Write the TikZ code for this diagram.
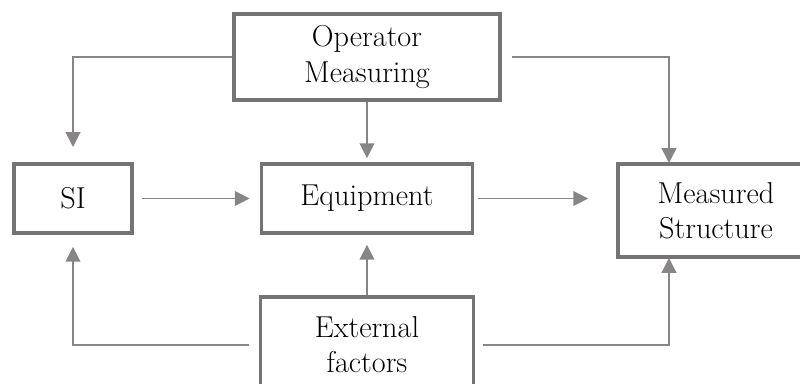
\documentclass[tikz,border=0pt]{standalone}
\usepackage{xcolor}
\usepackage{tikz}
\usetikzlibrary{arrows.meta, positioning}

\definecolor{boxgray}{RGB}{118,115,115}
\definecolor{linegray}{RGB}{135,133,133}

\begin{document}
\begin{tikzpicture}[x=0.025cm, y=-0.025cm,
        box/.style={draw=boxgray, line width=2.6pt, fill=white, rectangle, inner sep=0pt, align=center, font=\fontsize{21.5}{25}\selectfont},
        arrow/.style={draw=linegray, line width=0.9pt, -{Triangle[length=10.5pt, width=10.5pt]}, >=stealth}
    ]
        \useasboundingbox (0,0) rectangle (800,383);
        \node (op) [box, minimum width=6.65cm, minimum height=2.15cm] at (367,57) {\raisebox{-5pt}{Operator}\\\raisebox{-5pt}{Measuring}};
        \node (si) [box, minimum width=2.95cm, minimum height=1.725cm] at (73,198.5) {SI};
        \node (eq) [box, minimum width=5.275cm, minimum height=1.725cm] at (367,198.5) {Equipment};
        \node (ms) [box, minimum width=4.9cm, minimum height=2.325cm] at (716,210.5) {Measured\\Structure};
        \node (ext) [box, minimum width=5.325cm, minimum height=2.4cm] at (367,345) {External\\factors};
        \coordinate (msin) at (669,163);
        \coordinate (msout) at (669,258);
        \draw [arrow, shorten >=0.38cm] (op.west) -| (si.north);
        \draw [arrow, shorten <=0.25cm] (op.east) -| (msin);
        \draw [arrow, shorten >=0.1cm] (op) -- (eq);
        \draw [arrow, shorten <=0.2cm, shorten >=0.25cm] (si) -- (eq);
        \draw [arrow, shorten <=0.1cm, shorten >=0.7cm] (eq.east) -- (eq.east -| ms.west);
        \draw [arrow, shorten >=0.25cm] (ext) -- (eq);
        \draw [arrow, shorten <=0.25cm, shorten >=0.3cm] (ext.west) -| (si.south);
        \draw [arrow, shorten <=0.2cm] (ext.east) -| (msout);
    \end{tikzpicture}
\end{document}
